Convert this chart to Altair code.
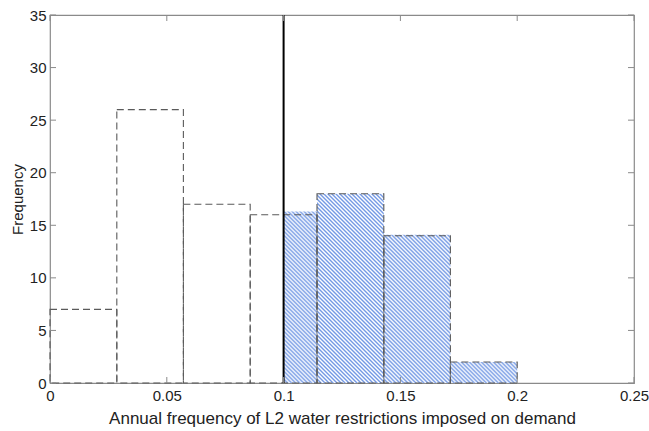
import math
import altair as alt
import pandas as pd

# ---------------- data ----------------
bin_left = [0.0, 0.0286, 0.0571, 0.0857, 0.1143, 0.1429, 0.1714]
bin_right = [0.0286, 0.0571, 0.0857, 0.1143, 0.1429, 0.1714, 0.2]
counts = [7, 26, 17, 16, 18, 14, 2]

hatch_left = [0.1, 0.1143, 0.1429, 0.1714]
hatch_right = [0.1143, 0.1429, 0.1714, 0.2]
hatch_height = [16.3, 18, 14.1, 2]

threshold = [0.1]
x_ticks = [0, 0.05, 0.1, 0.15, 0.2, 0.25]
y_ticks = [0, 5, 10, 15, 20, 25, 30, 35]

x_title = "Annual frequency of L2 water restrictions imposed on demand"
y_title = "Frequency"

# ---------------- layout / style ----------------
W, H = 584, 368
XMAX, YMAX = 0.25, 35
FONT = "Liberation Sans"
FRAME = "#8a8a8a"
DASH_COL = "#5a5a5a"
HATCH_COL = "#7499e4"
HATCH_STEP = 4  # horizontal pixel period of the hatch lines
TICK_LEN = 6

xs = alt.Scale(domain=[0, XMAX], nice=False, zero=False)
ys = alt.Scale(domain=[0, YMAX], nice=False)

hist = pd.DataFrame({"left": bin_left, "right": bin_right, "count": counts})
hatch = pd.DataFrame({"i": list(range(len(hatch_left))), "left": hatch_left,
                      "right": hatch_right, "h": hatch_height})
edges = pd.DataFrame({
    "x": hatch_right[:-1],
    "h": [min(a, b) for a, b in zip(hatch_height[:-1], hatch_height[1:])],
})
thr = pd.DataFrame({"x": threshold})
xt = pd.DataFrame({"v": x_ticks})
yt = pd.DataFrame({"v": y_ticks})


def stripe_gradient(w, h):
    """Diagonal '\\' stripes at 45 degrees in screen space for a w x h box,
    with an exact horizontal period of HATCH_STEP pixels."""
    n = int(math.ceil((w + h) / HATCH_STEP))
    s = (w * w + h * h) / (HATCH_STEP * n)
    stops = []
    for k in range(n):
        stops.append(alt.GradientStop(offset=k / n, color=HATCH_COL))
        stops.append(alt.GradientStop(offset=(k + 0.5) / n, color="#ffffff"))
    stops.append(alt.GradientStop(offset=1, color=HATCH_COL))
    return alt.LinearGradient(gradient="linear", x1=0, y1=1,
                              x2=w / s, y2=1 - h / s, stops=stops)


x_axis = alt.Axis(values=x_ticks, format="~g", title=x_title, tickSize=0,
                  domain=False, grid=False, labelPadding=5, titlePadding=7,
                  labelFontSize=15, titleFontSize=17, labelFont=FONT,
                  titleFont=FONT, labelColor="#222222", titleColor="#222222",
                  titleFontWeight="normal", labelFlush=False)
y_axis = alt.Axis(values=y_ticks, title=y_title, tickSize=0, domain=False,
                  grid=False, labelPadding=4, titlePadding=4,
                  labelFontSize=15, titleFontSize=15, labelFont=FONT,
                  titleFont=FONT, labelColor="#222222", titleColor="#222222",
                  titleFontWeight="normal")


def X(field):
    return alt.X(field, scale=xs, axis=x_axis)


def Y(field):
    return alt.Y(field, scale=ys, axis=y_axis)


layers = []

# hatched bars (one layer per bar so each gradient is sized to its bar)
for k in range(len(hatch_left)):
    w_px = (hatch_right[k] - hatch_left[k]) * W / XMAX
    h_px = hatch_height[k] * H / YMAX
    layers.append(
        alt.Chart(hatch).transform_filter(alt.datum.i == k)
        .mark_rect(fill=stripe_gradient(w_px, h_px), strokeWidth=0)
        .encode(x=X("left:Q"), x2="right:Q",
                y=Y("h:Q"), y2=alt.datum(0))
    )

# solid gray separators between hatched bars
layers.append(
    alt.Chart(edges).mark_rule(color="#7d7d7d", strokeWidth=1)
    .encode(x=X("x:Q"), y=Y("h:Q"), y2=alt.datum(0))
)

# dashed histogram outline
layers.append(
    alt.Chart(hist).mark_rect(fill="transparent", stroke=DASH_COL,
                              strokeWidth=1.1, strokeDash=[7, 4])
    .encode(x=X("left:Q"), x2="right:Q",
            y=Y("count:Q"), y2=alt.datum(0))
)

# threshold line
layers.append(
    alt.Chart(thr).mark_rule(color="#000000", strokeWidth=2)
    .encode(x=X("x:Q"), y=alt.datum(0), y2=alt.datum(YMAX))
)

# inward ticks (MATLAB style) on all four sides
layers.append(
    alt.Chart(yt).mark_rule(color=FRAME, strokeWidth=1)
    .encode(y=Y("v:Q"), x=alt.value(0), x2=alt.value(TICK_LEN))
)
layers.append(
    alt.Chart(yt).mark_rule(color=FRAME, strokeWidth=1)
    .encode(y=Y("v:Q"), x=alt.value(W - TICK_LEN), x2=alt.value(W))
)
layers.append(
    alt.Chart(xt).mark_rule(color=FRAME, strokeWidth=1)
    .encode(x=X("v:Q"), y=alt.value(H - TICK_LEN), y2=alt.value(H))
)
layers.append(
    alt.Chart(xt).mark_rule(color=FRAME, strokeWidth=1)
    .encode(x=X("v:Q"), y=alt.value(0), y2=alt.value(TICK_LEN))
)

chart = (
    alt.layer(*layers)
    .properties(width=W, height=H,
                autosize=alt.AutoSizeParams(type="none"),
                padding={"left": 50, "top": 15, "right": 15, "bottom": 48},
                background="#ffffff")
    .configure_view(stroke=FRAME, strokeWidth=1.2)
)

chart.save("out.html", embed_options={"renderer": "svg", "actions": False})
